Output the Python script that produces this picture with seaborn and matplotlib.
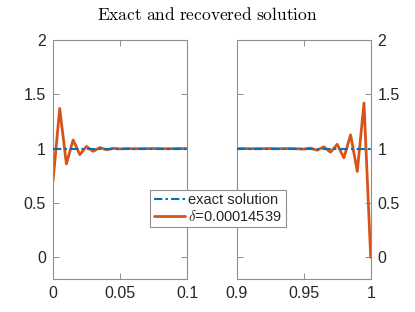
import matplotlib
matplotlib.use("Agg")
import matplotlib.pyplot as plt
import seaborn as sns
import pandas as pd
from matplotlib.lines import Line2D

# ---- data ----
x_left = [0.0, 0.005, 0.01, 0.015, 0.02, 0.025, 0.03, 0.035, 0.04, 0.045, 0.05,
          0.055, 0.06, 0.065, 0.07, 0.075, 0.08, 0.085, 0.09, 0.095, 0.1]
rec_left = [0.70, 1.37, 0.86, 1.08, 0.945, 1.02, 0.975, 1.01, 0.99, 1.003, 0.997,
            1.001, 0.999, 1.0, 1.0, 1.001, 1.0, 0.999, 1.0, 1.001, 1.0]
x_right = [0.9, 0.905, 0.91, 0.915, 0.92, 0.925, 0.93, 0.935, 0.94, 0.945, 0.95,
           0.955, 0.96, 0.965, 0.97, 0.975, 0.98, 0.985, 0.99, 0.995, 1.0]
rec_right = [1.0, 1.001, 0.999, 1.0, 1.0, 1.001, 0.999, 1.0, 1.001, 0.999, 0.996,
             1.005, 0.985, 1.017, 0.967, 1.04, 0.915, 1.127, 0.79, 1.42, 0.0]
exact_left = [1.0] * len(x_left)
exact_right = [1.0] * len(x_right)
xticks_left = [0, 0.05, 0.1]
xticklabels_left = ["0", "0.05", "0.1"]
xticks_right = [0.9, 0.95, 1.0]
xticklabels_right = ["0.9", "0.95", "1"]
yticks = [0, 0.5, 1, 1.5, 2]
yticklabels = ["0", "0.5", "1", "1.5", "2"]
title = r"$\mathrm{Exact\ and\ recovered\ solution}$"
legend_labels = ["exact solution", r"$\delta$=0.00014539"]

sns.set_style("white")
plt.rcParams["font.family"] = ["Liberation Sans", "DejaVu Sans"]
plt.rcParams["mathtext.fontset"] = "cm"

BLUE = "#0072BD"
ORANGE = "#D95319"
SPINE = "#8f8f8f"
TXT = "#262626"
DASH = (0, (4, 1.5, 1.2, 1.5))

fig = plt.figure(figsize=(4.15, 3.12), dpi=100)
axL = fig.add_axes([53 / 415, 33 / 312, 134 / 415, 239 / 312])
axR = fig.add_axes([236.7 / 415, 33 / 312, 134 / 415, 239 / 312])

dl = pd.DataFrame({"x": x_left, "exact": exact_left, "rec": rec_left})
dr = pd.DataFrame({"x": x_right, "exact": exact_right, "rec": rec_right})

for ax, d, xt, xtl, xlim in [(axL, dl, xticks_left, xticklabels_left, (0, 0.1)),
                             (axR, dr, xticks_right, xticklabels_right, (0.9, 1.0))]:
    sns.lineplot(data=d, x="x", y="exact", ax=ax, color=BLUE, lw=1.5,
                 linestyle=DASH, zorder=3)
    sns.lineplot(data=d, x="x", y="rec", ax=ax, color=ORANGE, lw=2.0, zorder=2)
    ax.set_xlim(*xlim)
    ax.set_ylim(-0.2, 2)
    ax.set_xticks(xt)
    ax.set_xticklabels(xtl)
    ax.set_yticks(yticks)
    ax.set_yticklabels(yticklabels)
    ax.set_xlabel("")
    ax.set_ylabel("")
    for s in ax.spines.values():
        s.set_color(SPINE)
        s.set_linewidth(0.8)
    ax.tick_params(direction="in", length=4, width=0.7, color=SPINE,
                   labelsize=11.5, labelcolor=TXT, top=True, bottom=True,
                   left=True, right=True, pad=5)

axL.tick_params(labelleft=True, labelright=False)
axR.tick_params(labelleft=False, labelright=True)

fig.text(0.5, 1 - 15 / 312, title, ha="center", va="center", fontsize=12.5, color="black")

handles = [Line2D([], [], color=BLUE, lw=1.5, linestyle=DASH),
           Line2D([], [], color=ORANGE, lw=2.0)]
leg = fig.legend(handles, legend_labels, loc="center", bbox_to_anchor=(218 / 415, 1 - 208.5 / 312),
                 fontsize=10.5, frameon=True, fancybox=False, framealpha=1, edgecolor=SPINE,
                 handlelength=2.1, handletextpad=0.25, borderpad=0.25, labelspacing=0.1,
                 borderaxespad=0)
leg.get_frame().set_linewidth(0.8)

fig.savefig("out.png", dpi=100)
